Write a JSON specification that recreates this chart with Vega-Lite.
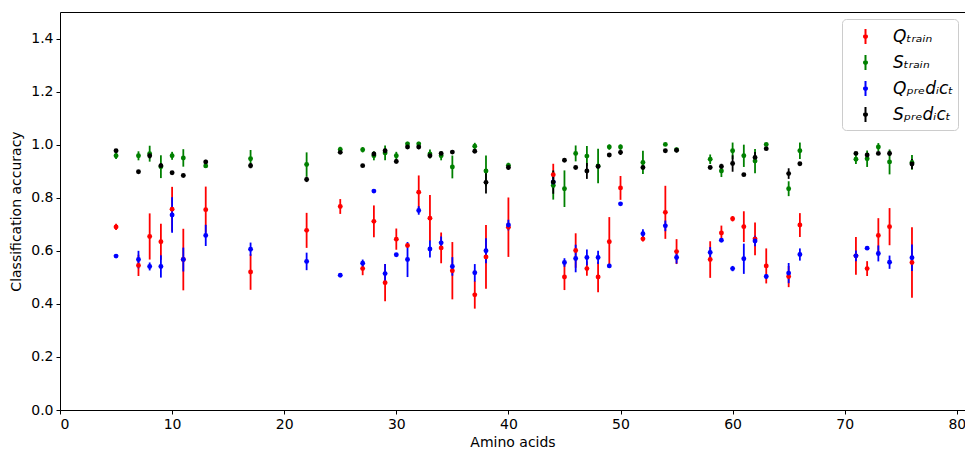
{
  "$schema": "https://vega.github.io/schema/vega-lite/v6.json",
  "autosize": {"type": "none"},
  "width": 905,
  "height": 398,
  "padding": {"left": 60, "top": 12, "right": 0, "bottom": 41},
  "background": "white",
  "config": {
    "view": {"stroke": null},
    "font": "DejaVu Sans",
    "axis": {
      "grid": false,
      "domainColor": "black",
      "tickColor": "black",
      "labelColor": "black",
      "titleColor": "black",
      "labelFont": "DejaVu Sans",
      "titleFont": "DejaVu Sans",
      "labelFontSize": 14,
      "titleFontSize": 14,
      "titleFontWeight": "normal",
      "tickSize": 4,
      "labelPadding": 3
    }
  },
  "data": {"values": [
    {"aa":5,"s":"Q_train","v":0.690,"lo":0.678,"hi":0.702},
    {"aa":7,"s":"Q_train","v":0.545,"lo":0.505,"hi":0.585},
    {"aa":8,"s":"Q_train","v":0.654,"lo":0.567,"hi":0.741},
    {"aa":9,"s":"Q_train","v":0.634,"lo":0.566,"hi":0.702},
    {"aa":10,"s":"Q_train","v":0.757,"lo":0.673,"hi":0.841},
    {"aa":11,"s":"Q_train","v":0.567,"lo":0.451,"hi":0.683},
    {"aa":13,"s":"Q_train","v":0.755,"lo":0.668,"hi":0.842},
    {"aa":17,"s":"Q_train","v":0.520,"lo":0.453,"hi":0.587},
    {"aa":22,"s":"Q_train","v":0.677,"lo":0.611,"hi":0.743},
    {"aa":25,"s":"Q_train","v":0.767,"lo":0.739,"hi":0.795},
    {"aa":27,"s":"Q_train","v":0.533,"lo":0.508,"hi":0.558},
    {"aa":28,"s":"Q_train","v":0.711,"lo":0.651,"hi":0.771},
    {"aa":29,"s":"Q_train","v":0.480,"lo":0.410,"hi":0.550},
    {"aa":30,"s":"Q_train","v":0.644,"lo":0.604,"hi":0.684},
    {"aa":31,"s":"Q_train","v":0.620,"lo":0.615,"hi":0.625},
    {"aa":32,"s":"Q_train","v":0.821,"lo":0.758,"hi":0.884},
    {"aa":33,"s":"Q_train","v":0.723,"lo":0.636,"hi":0.810},
    {"aa":34,"s":"Q_train","v":0.611,"lo":0.553,"hi":0.669},
    {"aa":35,"s":"Q_train","v":0.525,"lo":0.417,"hi":0.633},
    {"aa":37,"s":"Q_train","v":0.434,"lo":0.382,"hi":0.486},
    {"aa":38,"s":"Q_train","v":0.577,"lo":0.457,"hi":0.697},
    {"aa":40,"s":"Q_train","v":0.689,"lo":0.577,"hi":0.801},
    {"aa":44,"s":"Q_train","v":0.887,"lo":0.846,"hi":0.928},
    {"aa":45,"s":"Q_train","v":0.501,"lo":0.452,"hi":0.550},
    {"aa":46,"s":"Q_train","v":0.601,"lo":0.536,"hi":0.666},
    {"aa":47,"s":"Q_train","v":0.533,"lo":0.506,"hi":0.560},
    {"aa":48,"s":"Q_train","v":0.501,"lo":0.444,"hi":0.558},
    {"aa":49,"s":"Q_train","v":0.634,"lo":0.541,"hi":0.727},
    {"aa":50,"s":"Q_train","v":0.837,"lo":0.792,"hi":0.882},
    {"aa":52,"s":"Q_train","v":0.645,"lo":0.635,"hi":0.655},
    {"aa":54,"s":"Q_train","v":0.745,"lo":0.645,"hi":0.845},
    {"aa":55,"s":"Q_train","v":0.597,"lo":0.550,"hi":0.644},
    {"aa":58,"s":"Q_train","v":0.567,"lo":0.498,"hi":0.636},
    {"aa":59,"s":"Q_train","v":0.667,"lo":0.639,"hi":0.695},
    {"aa":60,"s":"Q_train","v":0.721,"lo":0.711,"hi":0.731},
    {"aa":61,"s":"Q_train","v":0.691,"lo":0.633,"hi":0.749},
    {"aa":62,"s":"Q_train","v":0.645,"lo":0.583,"hi":0.707},
    {"aa":63,"s":"Q_train","v":0.543,"lo":0.477,"hi":0.609},
    {"aa":65,"s":"Q_train","v":0.503,"lo":0.463,"hi":0.543},
    {"aa":66,"s":"Q_train","v":0.697,"lo":0.652,"hi":0.742},
    {"aa":71,"s":"Q_train","v":0.581,"lo":0.510,"hi":0.652},
    {"aa":72,"s":"Q_train","v":0.533,"lo":0.505,"hi":0.561},
    {"aa":73,"s":"Q_train","v":0.658,"lo":0.593,"hi":0.723},
    {"aa":74,"s":"Q_train","v":0.691,"lo":0.621,"hi":0.761},
    {"aa":76,"s":"Q_train","v":0.556,"lo":0.423,"hi":0.689},

    {"aa":5,"s":"S_train","v":0.958,"lo":0.946,"hi":0.970},
    {"aa":7,"s":"S_train","v":0.958,"lo":0.941,"hi":0.975},
    {"aa":8,"s":"S_train","v":0.966,"lo":0.936,"hi":0.996},
    {"aa":9,"s":"S_train","v":0.917,"lo":0.874,"hi":0.960},
    {"aa":10,"s":"S_train","v":0.958,"lo":0.943,"hi":0.973},
    {"aa":11,"s":"S_train","v":0.950,"lo":0.917,"hi":0.983},
    {"aa":13,"s":"S_train","v":0.920,"lo":0.912,"hi":0.928},
    {"aa":17,"s":"S_train","v":0.947,"lo":0.914,"hi":0.980},
    {"aa":22,"s":"S_train","v":0.925,"lo":0.879,"hi":0.971},
    {"aa":25,"s":"S_train","v":0.982,"lo":0.972,"hi":0.992},
    {"aa":27,"s":"S_train","v":0.981,"lo":0.971,"hi":0.991},
    {"aa":28,"s":"S_train","v":0.958,"lo":0.941,"hi":0.975},
    {"aa":29,"s":"S_train","v":0.969,"lo":0.941,"hi":0.997},
    {"aa":30,"s":"S_train","v":0.958,"lo":0.943,"hi":0.973},
    {"aa":31,"s":"S_train","v":1.003,"lo":0.995,"hi":1.011},
    {"aa":32,"s":"S_train","v":1.003,"lo":0.995,"hi":1.011},
    {"aa":33,"s":"S_train","v":0.965,"lo":0.948,"hi":0.982},
    {"aa":34,"s":"S_train","v":0.958,"lo":0.941,"hi":0.975},
    {"aa":35,"s":"S_train","v":0.916,"lo":0.873,"hi":0.959},
    {"aa":37,"s":"S_train","v":0.994,"lo":0.981,"hi":1.007},
    {"aa":38,"s":"S_train","v":0.901,"lo":0.843,"hi":0.959},
    {"aa":40,"s":"S_train","v":0.922,"lo":0.912,"hi":0.932},
    {"aa":44,"s":"S_train","v":0.846,"lo":0.793,"hi":0.899},
    {"aa":45,"s":"S_train","v":0.834,"lo":0.765,"hi":0.903},
    {"aa":46,"s":"S_train","v":0.967,"lo":0.937,"hi":0.997},
    {"aa":47,"s":"S_train","v":0.957,"lo":0.919,"hi":0.995},
    {"aa":48,"s":"S_train","v":0.920,"lo":0.855,"hi":0.985},
    {"aa":49,"s":"S_train","v":0.991,"lo":0.981,"hi":1.001},
    {"aa":50,"s":"S_train","v":0.991,"lo":0.981,"hi":1.001},
    {"aa":52,"s":"S_train","v":0.933,"lo":0.889,"hi":0.977},
    {"aa":54,"s":"S_train","v":1.001,"lo":0.996,"hi":1.006},
    {"aa":55,"s":"S_train","v":0.981,"lo":0.973,"hi":0.989},
    {"aa":58,"s":"S_train","v":0.945,"lo":0.927,"hi":0.963},
    {"aa":59,"s":"S_train","v":0.901,"lo":0.878,"hi":0.924},
    {"aa":60,"s":"S_train","v":0.977,"lo":0.946,"hi":1.008},
    {"aa":61,"s":"S_train","v":0.958,"lo":0.916,"hi":1.000},
    {"aa":62,"s":"S_train","v":0.938,"lo":0.892,"hi":0.984},
    {"aa":63,"s":"S_train","v":1.001,"lo":0.996,"hi":1.006},
    {"aa":65,"s":"S_train","v":0.834,"lo":0.806,"hi":0.862},
    {"aa":66,"s":"S_train","v":0.977,"lo":0.946,"hi":1.008},
    {"aa":71,"s":"S_train","v":0.945,"lo":0.927,"hi":0.963},
    {"aa":72,"s":"S_train","v":0.947,"lo":0.916,"hi":0.978},
    {"aa":73,"s":"S_train","v":0.991,"lo":0.976,"hi":1.006},
    {"aa":74,"s":"S_train","v":0.935,"lo":0.888,"hi":0.982},
    {"aa":76,"s":"S_train","v":0.933,"lo":0.905,"hi":0.961},

    {"aa":5,"s":"Q_predict","v":0.580,"lo":0.575,"hi":0.585},
    {"aa":7,"s":"Q_predict","v":0.567,"lo":0.534,"hi":0.600},
    {"aa":8,"s":"Q_predict","v":0.541,"lo":0.526,"hi":0.556},
    {"aa":9,"s":"Q_predict","v":0.541,"lo":0.499,"hi":0.583},
    {"aa":10,"s":"Q_predict","v":0.735,"lo":0.668,"hi":0.802},
    {"aa":11,"s":"Q_predict","v":0.567,"lo":0.522,"hi":0.612},
    {"aa":13,"s":"Q_predict","v":0.658,"lo":0.618,"hi":0.698},
    {"aa":17,"s":"Q_predict","v":0.606,"lo":0.581,"hi":0.631},
    {"aa":22,"s":"Q_predict","v":0.560,"lo":0.527,"hi":0.593},
    {"aa":25,"s":"Q_predict","v":0.508,"lo":0.503,"hi":0.513},
    {"aa":27,"s":"Q_predict","v":0.553,"lo":0.539,"hi":0.567},
    {"aa":28,"s":"Q_predict","v":0.825,"lo":0.820,"hi":0.830},
    {"aa":29,"s":"Q_predict","v":0.514,"lo":0.478,"hi":0.550},
    {"aa":30,"s":"Q_predict","v":0.585,"lo":0.580,"hi":0.590},
    {"aa":31,"s":"Q_predict","v":0.567,"lo":0.501,"hi":0.633},
    {"aa":32,"s":"Q_predict","v":0.752,"lo":0.736,"hi":0.768},
    {"aa":33,"s":"Q_predict","v":0.607,"lo":0.575,"hi":0.639},
    {"aa":34,"s":"Q_predict","v":0.630,"lo":0.606,"hi":0.654},
    {"aa":35,"s":"Q_predict","v":0.541,"lo":0.506,"hi":0.576},
    {"aa":37,"s":"Q_predict","v":0.517,"lo":0.484,"hi":0.550},
    {"aa":38,"s":"Q_predict","v":0.600,"lo":0.553,"hi":0.647},
    {"aa":40,"s":"Q_predict","v":0.697,"lo":0.677,"hi":0.717},
    {"aa":44,"s":"Q_predict","v":0.859,"lo":0.839,"hi":0.879},
    {"aa":45,"s":"Q_predict","v":0.556,"lo":0.540,"hi":0.572},
    {"aa":46,"s":"Q_predict","v":0.571,"lo":0.519,"hi":0.623},
    {"aa":47,"s":"Q_predict","v":0.575,"lo":0.545,"hi":0.605},
    {"aa":48,"s":"Q_predict","v":0.575,"lo":0.550,"hi":0.600},
    {"aa":49,"s":"Q_predict","v":0.543,"lo":0.535,"hi":0.551},
    {"aa":50,"s":"Q_predict","v":0.777,"lo":0.772,"hi":0.782},
    {"aa":52,"s":"Q_predict","v":0.664,"lo":0.647,"hi":0.681},
    {"aa":54,"s":"Q_predict","v":0.694,"lo":0.674,"hi":0.714},
    {"aa":55,"s":"Q_predict","v":0.575,"lo":0.552,"hi":0.598},
    {"aa":58,"s":"Q_predict","v":0.594,"lo":0.574,"hi":0.614},
    {"aa":59,"s":"Q_predict","v":0.640,"lo":0.635,"hi":0.645},
    {"aa":60,"s":"Q_predict","v":0.533,"lo":0.523,"hi":0.543},
    {"aa":61,"s":"Q_predict","v":0.570,"lo":0.513,"hi":0.627},
    {"aa":62,"s":"Q_predict","v":0.637,"lo":0.617,"hi":0.657},
    {"aa":63,"s":"Q_predict","v":0.503,"lo":0.495,"hi":0.511},
    {"aa":65,"s":"Q_predict","v":0.516,"lo":0.478,"hi":0.554},
    {"aa":66,"s":"Q_predict","v":0.586,"lo":0.563,"hi":0.609},
    {"aa":71,"s":"Q_predict","v":0.581,"lo":0.561,"hi":0.601},
    {"aa":72,"s":"Q_predict","v":0.610,"lo":0.605,"hi":0.615},
    {"aa":73,"s":"Q_predict","v":0.590,"lo":0.560,"hi":0.620},
    {"aa":74,"s":"Q_predict","v":0.557,"lo":0.532,"hi":0.582},
    {"aa":76,"s":"Q_predict","v":0.574,"lo":0.524,"hi":0.624},

    {"aa":5,"s":"S_predict","v":0.977,"lo":0.972,"hi":0.982},
    {"aa":7,"s":"S_predict","v":0.898,"lo":0.893,"hi":0.903},
    {"aa":8,"s":"S_predict","v":0.958,"lo":0.948,"hi":0.968},
    {"aa":9,"s":"S_predict","v":0.921,"lo":0.911,"hi":0.931},
    {"aa":10,"s":"S_predict","v":0.894,"lo":0.889,"hi":0.899},
    {"aa":11,"s":"S_predict","v":0.884,"lo":0.879,"hi":0.889},
    {"aa":13,"s":"S_predict","v":0.935,"lo":0.927,"hi":0.943},
    {"aa":17,"s":"S_predict","v":0.921,"lo":0.911,"hi":0.931},
    {"aa":22,"s":"S_predict","v":0.869,"lo":0.859,"hi":0.879},
    {"aa":25,"s":"S_predict","v":0.971,"lo":0.966,"hi":0.976},
    {"aa":27,"s":"S_predict","v":0.921,"lo":0.916,"hi":0.926},
    {"aa":28,"s":"S_predict","v":0.965,"lo":0.957,"hi":0.973},
    {"aa":29,"s":"S_predict","v":0.977,"lo":0.969,"hi":0.985},
    {"aa":30,"s":"S_predict","v":0.937,"lo":0.929,"hi":0.945},
    {"aa":31,"s":"S_predict","v":0.991,"lo":0.986,"hi":0.996},
    {"aa":32,"s":"S_predict","v":0.991,"lo":0.983,"hi":0.999},
    {"aa":33,"s":"S_predict","v":0.958,"lo":0.953,"hi":0.963},
    {"aa":34,"s":"S_predict","v":0.967,"lo":0.962,"hi":0.972},
    {"aa":35,"s":"S_predict","v":0.972,"lo":0.967,"hi":0.977},
    {"aa":37,"s":"S_predict","v":0.975,"lo":0.970,"hi":0.980},
    {"aa":38,"s":"S_predict","v":0.858,"lo":0.816,"hi":0.900},
    {"aa":40,"s":"S_predict","v":0.914,"lo":0.906,"hi":0.922},
    {"aa":44,"s":"S_predict","v":0.859,"lo":0.815,"hi":0.903},
    {"aa":45,"s":"S_predict","v":0.941,"lo":0.936,"hi":0.946},
    {"aa":46,"s":"S_predict","v":0.914,"lo":0.909,"hi":0.919},
    {"aa":47,"s":"S_predict","v":0.901,"lo":0.871,"hi":0.931},
    {"aa":48,"s":"S_predict","v":0.918,"lo":0.910,"hi":0.926},
    {"aa":49,"s":"S_predict","v":0.961,"lo":0.956,"hi":0.966},
    {"aa":50,"s":"S_predict","v":0.971,"lo":0.961,"hi":0.981},
    {"aa":52,"s":"S_predict","v":0.914,"lo":0.909,"hi":0.919},
    {"aa":54,"s":"S_predict","v":0.977,"lo":0.972,"hi":0.982},
    {"aa":55,"s":"S_predict","v":0.979,"lo":0.971,"hi":0.987},
    {"aa":58,"s":"S_predict","v":0.914,"lo":0.909,"hi":0.919},
    {"aa":59,"s":"S_predict","v":0.918,"lo":0.908,"hi":0.928},
    {"aa":60,"s":"S_predict","v":0.929,"lo":0.898,"hi":0.960},
    {"aa":61,"s":"S_predict","v":0.887,"lo":0.882,"hi":0.892},
    {"aa":62,"s":"S_predict","v":0.952,"lo":0.932,"hi":0.972},
    {"aa":63,"s":"S_predict","v":0.985,"lo":0.980,"hi":0.990},
    {"aa":65,"s":"S_predict","v":0.891,"lo":0.871,"hi":0.911},
    {"aa":66,"s":"S_predict","v":0.928,"lo":0.923,"hi":0.933},
    {"aa":71,"s":"S_predict","v":0.967,"lo":0.962,"hi":0.972},
    {"aa":72,"s":"S_predict","v":0.961,"lo":0.956,"hi":0.966},
    {"aa":73,"s":"S_predict","v":0.967,"lo":0.962,"hi":0.972},
    {"aa":74,"s":"S_predict","v":0.967,"lo":0.957,"hi":0.977},
    {"aa":76,"s":"S_predict","v":0.927,"lo":0.908,"hi":0.946}
  ]},
  "encoding": {
    "color": {
      "field": "s", "type": "nominal",
      "scale": {"domain": ["Q_train","S_train","Q_predict","S_predict"], "range": ["#ff0000","#008000","#0000ff","#000000"]},
      "legend": {
        "title": null,
        "orient": "top-right",
        "offset": 7,
        "padding": 4,
        "rowPadding": 1,
        "strokeColor": "#cccccc",
        "cornerRadius": 4,
        "fillColor": "white",
        "labelFont": "DejaVu Sans",
        "labelFontStyle": "italic",
        "labelFontSize": 17,
        "labelColor": "black",
        "labelOffset": 14,
        "symbolOffset": 6,
        "symbolType": "M0,-0.6L0,0.6M0.12,0A0.12,0.12,0,1,1,-0.12,0A0.12,0.12,0,1,1,0.12,0Z",
        "symbolSize": 625,
        "symbolStrokeWidth": 2,
        "labelExpr": "datum.label == 'Q_train' ? 'Qₜᵣₐᵢₙ' : datum.label == 'S_train' ? 'Sₜᵣₐᵢₙ' : datum.label == 'Q_predict' ? 'Qₚᵣₑdᵢcₜ' : 'Sₚᵣₑdᵢcₜ'"
      }
    }
  },
  "layer": [
    {
      "mark": {"type": "rule", "strokeWidth": 1.8},
      "encoding": {
        "x": {
          "field": "aa", "type": "quantitative",
          "scale": {"domain": [0, 80.73], "nice": false, "zero": false},
          "axis": {"title": "Amino acids", "orient": "bottom", "values": [0,10,20,30,40,50,60,70,80], "titlePadding": 4}
        },
        "y": {"field": "lo", "type": "quantitative",
          "scale": {"domain": [0, 1.5], "nice": false},
          "axis": {"title": "Classification accuracy", "values": [0,0.2,0.4,0.6,0.8,1.0,1.2,1.4], "format": ".1f", "titlePadding": 7}},
        "y2": {"field": "hi"}
      }
    },
    {
      "mark": {"type": "circle", "size": 24, "opacity": 1},
      "encoding": {
        "x": {
          "field": "aa", "type": "quantitative",
          "axis": {"orient": "top", "title": null, "labels": false, "ticks": false, "domain": true}
        },
        "y": {"field": "v", "type": "quantitative"}
      }
    }
  ],
  "resolve": {"axis": {"x": "independent"}}
}
